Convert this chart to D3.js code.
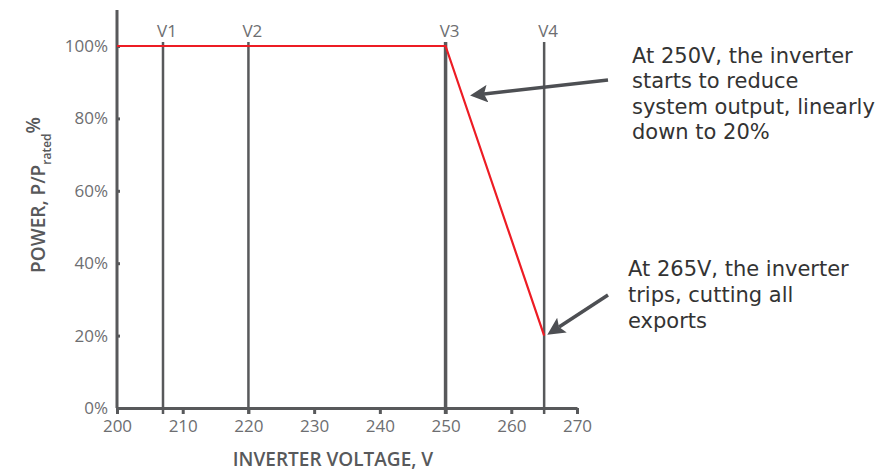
<!DOCTYPE html>
<html><head><meta charset="utf-8">
<script src="https://cdn.jsdelivr.net/npm/d3@7"></script>
<style>body{margin:0;background:#fff}svg{display:block}</style>
</head><body>
<svg id="c" width="890" height="473"></svg>
<script>
const voltages = [200, 250, 265];
const powers = [100, 100, 20];
const markerNames = ["V1", "V2", "V3", "V4"];
const markerVoltages = [207, 220, 250, 265];
const xTicks = [200, 210, 220, 230, 240, 250, 260, 270];
const yTicks = [0, 20, 40, 60, 80, 100];
const note1 = ["At 250V, the inverter", "starts to reduce", "system output, linearly", "down to 20%"];
const note2 = ["At 265V, the inverter", "trips, cutting all", "exports"];

const svg = d3.select("#c");
const x = d3.scaleLinear().domain([200, 270]).range([117, 577]);
const y = d3.scaleLinear().domain([0, 100]).range([408, 46]);
const grey = "#58595b";
const font = "'Open Sans', sans-serif";

// axes
const xa = svg.append("g").attr("transform", `translate(0,${y(0)})`)
  .call(d3.axisBottom(x).tickValues(xTicks).tickSize(6).tickSizeOuter(0).tickPadding(6));
xa.select(".domain").attr("stroke", grey).attr("stroke-width", 3);
xa.selectAll(".tick line").attr("stroke", grey).attr("stroke-width", 3);
xa.selectAll("text").attr("fill", "#6d6e71").style("font-family", font).style("font-size", "17px");

const ya = svg.append("g").attr("transform", `translate(${x(200)},0)`)
  .call(d3.axisLeft(y).tickValues(yTicks).tickSize(-3).tickSizeOuter(0).tickPadding(9).tickFormat(d => d + "%"));
ya.select(".domain").attr("stroke", grey).attr("stroke-width", 3).attr("d", `M0,${y(0)}V10`);
ya.selectAll(".tick line").attr("stroke", grey).attr("stroke-width", 3);
ya.selectAll("text").attr("fill", "#6d6e71").style("font-family", font).style("font-size", "17px");

// marker lines
const mk = svg.append("g");
markerVoltages.forEach((v, i) => {
  mk.append("line").attr("x1", x(v)).attr("x2", x(v)).attr("y1", 42).attr("y2", y(0) + 6)
    .attr("stroke", grey).attr("stroke-width", v === 250 ? 3.5 : 2.5);
  mk.append("text").attr("x", x(v) + 4).attr("y", 37).attr("text-anchor", "middle")
    .attr("fill", "#6d6e71").style("font-family", font).style("font-size", "17px").text(markerNames[i]);
});

// red line
svg.append("path").datum(voltages.map((v, i) => [v, powers[i]]))
  .attr("d", d3.line().x(d => x(d[0])).y(d => y(d[1])))
  .attr("fill", "none").attr("stroke", "#ed1c24").attr("stroke-width", 2.2);

// axis titles
svg.append("text").attr("x", 333).attr("y", 466).attr("text-anchor", "middle")
  .attr("fill", grey).style("font-family", font).style("font-weight", 600).style("font-size", "19px")
  .text("INVERTER VOLTAGE, V");
const yt = svg.append("text").attr("transform", "translate(45,195) rotate(-90)").attr("text-anchor", "middle")
  .attr("fill", grey).style("font-family", font).style("font-weight", 600).style("font-size", "19px");
yt.append("tspan").text("POWER, P/P");
yt.append("tspan").attr("dy", 6).style("font-size", "12px").text("rated");
yt.append("tspan").attr("dy", -11).text("%");

// annotations
const nf = "'DejaVu Sans', Verdana, sans-serif";
function note(lines, x0, y0, lh) {
  const t = svg.append("text").attr("fill", "#333").style("font-family", nf).style("font-size", "21px");
  lines.forEach((l, i) => t.append("tspan").attr("x", x0).attr("y", y0 + i * lh).text(l));
}
note(note1, 632, 63, 25.3);
note(note2, 628, 276, 26);

// arrows
const defs = svg.append("defs");
defs.append("marker").attr("id", "ah").attr("viewBox", "0 0 10 10").attr("refX", 2).attr("refY", 5)
  .attr("markerWidth", 5).attr("markerHeight", 5).attr("orient", "auto")
  .append("path").attr("d", "M0,0L10,5L0,10L2,5Z").attr("fill", "#4d4f53");
function arrow(x1, y1, x2, y2) {
  svg.append("line").attr("x1", x1).attr("y1", y1).attr("x2", x2).attr("y2", y2)
    .attr("stroke", "#4d4f53").attr("stroke-width", 3.5).attr("marker-end", "url(#ah)");
}
arrow(608, 80, 484, 94);
arrow(608, 295, 559, 327);
</script>
</body></html>
